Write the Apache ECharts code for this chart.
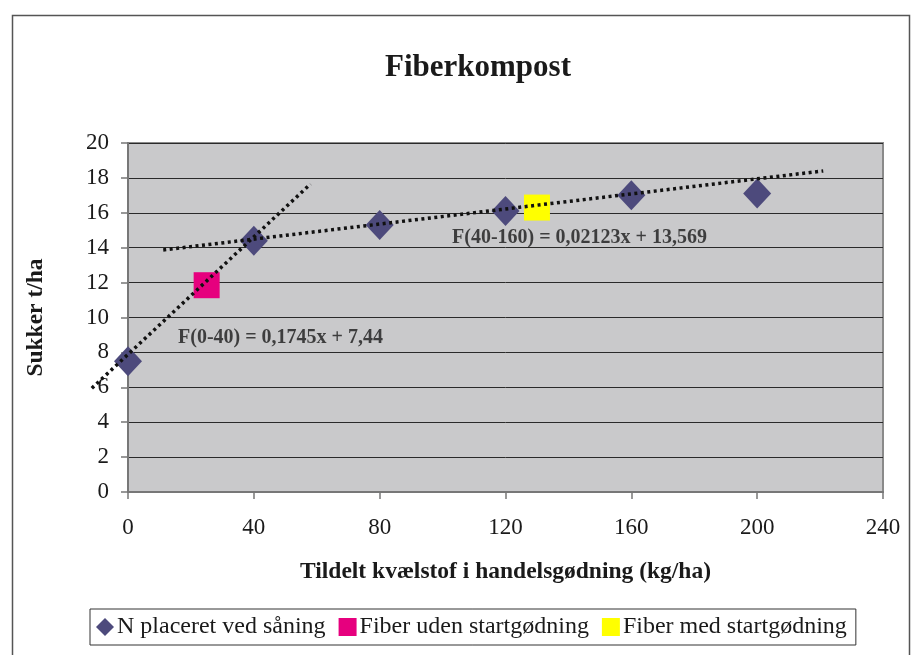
<!DOCTYPE html>
<html><head><meta charset="utf-8">
<script src="https://cdn.jsdelivr.net/npm/echarts@6/dist/echarts.min.js"></script>
<style>html,body{margin:0;padding:0;background:#fff}#c{width:922px;height:655px}</style>
</head><body><div id="c"></div>
<script>
const nPlaced = [[0,7.5],[40,14.4],[80,15.3],[120,16.1],[160,17.0],[200,17.1]];
const fiberUden = [[25,11.85]];
const fiberMed = [[130,16.3]];
const trend1 = [[-11.5,5.95],[58,17.65]];
const trend2 = [[11.2,13.87],[221,18.4]];
const label1 = {pos:[15.9,8.85], text:'F(0-40) = 0,1745x + 7,44'};
const label2 = {pos:[103,14.55], text:'F(40-160) = 0,02123x + 13,569'};
const xTicks = [0,40,80,120,160,200,240];
const yTicks = [0,2,4,6,8,10,12,14,16,18,20];

const F = 'Liberation Serif, Times New Roman, serif';
const chart = echarts.init(document.getElementById('c'));
const dotted = {stroke:'#111',lineWidth:3.5,lineDash:[3,3.5],fill:'none'};
chart.setOption({
  animation:false,
  backgroundColor:'#fff',
  textStyle:{fontFamily:F},
  title:{text:'Fiberkompost',left:473,textAlign:'center',top:47,textStyle:{fontFamily:F,fontSize:31,fontWeight:'bold',color:'#1a1a1a'}},
  grid:{left:128,right:39,top:143,bottom:163,show:true,backgroundColor:'#c9c9cb',borderColor:'#8a8a8a',borderWidth:2},
  legend:{left:90,top:609,orient:'horizontal',itemWidth:18,itemHeight:18,itemGap:13,padding:[6,9,6,6],
    borderColor:'#333',borderWidth:1,textStyle:{fontFamily:F,fontSize:24,color:'#1a1a1a',padding:[0,0,0,-2]},
    data:[{name:'N placeret ved såning',icon:'diamond'},{name:'Fiber uden startgødning',icon:'rect'},{name:'Fiber med startgødning',icon:'rect'}]},
  xAxis:{type:'value',min:0,max:240,interval:40,
    name:'Tildelt kvælstof i handelsgødning (kg/ha)',nameLocation:'middle',nameGap:68,
    nameTextStyle:{fontFamily:F,fontSize:23.5,fontWeight:'bold',color:'#1a1a1a'},
    axisLine:{show:true,lineStyle:{color:'#777',width:2}},
    axisTick:{show:true,length:7,lineStyle:{color:'#777',width:1.5}},
    axisLabel:{fontFamily:F,fontSize:23,color:'#1a1a1a',margin:24,formatter:v=>xTicks.includes(v)?String(v):''},
    splitLine:{show:false}},
  yAxis:{type:'value',min:0,max:20,interval:2,
    name:'Sukker t/ha',nameLocation:'middle',nameGap:80,nameRotate:90,
    nameTextStyle:{fontFamily:F,fontSize:23.5,fontWeight:'bold',color:'#1a1a1a'},
    axisLine:{show:true,lineStyle:{color:'#777',width:2}},
    axisTick:{show:true,length:7,lineStyle:{color:'#777',width:1.5}},
    axisLabel:{fontFamily:F,fontSize:23,color:'#1a1a1a',margin:19,formatter:v=>yTicks.includes(v)?String(v):''},
    splitLine:{show:true,lineStyle:{color:'#2a2a2a',width:1}}},
  series:[
    {name:'N placeret ved såning',type:'scatter',symbol:'diamond',symbolSize:[28,30],itemStyle:{color:'#4d4a7c',opacity:1},data:nPlaced,z:3},
    {name:'Fiber uden startgødning',type:'scatter',symbol:'rect',symbolSize:26,itemStyle:{color:'#e6007e',opacity:1},data:fiberUden,z:3},
    {name:'Fiber med startgødning',type:'scatter',symbol:'rect',symbolSize:26,itemStyle:{color:'#ffff00',opacity:1},data:fiberMed,z:3},
    {type:'scatter',symbolSize:0,silent:true,z:5,data:[label1.pos],
      label:{show:true,position:'right',distance:0,formatter:label1.text,fontFamily:F,fontSize:20,fontWeight:'bold',color:'#1a1a1a'}},
    {type:'scatter',symbolSize:0,silent:true,z:5,data:[label2.pos],
      label:{show:true,position:'right',distance:0,formatter:label2.text,fontFamily:F,fontSize:20,fontWeight:'bold',color:'#1a1a1a'}}
  ]
});
const toPx = p => chart.convertToPixel({xAxisIndex:0,yAxisIndex:0}, p);
chart.setOption({graphic:[
  {type:'rect',shape:{x:12.5,y:15.5,width:897,height:660},style:{fill:'none',stroke:'#555',lineWidth:1.5},z:-1},
  {type:'polyline',shape:{points:trend1.map(toPx)},style:dotted,z:10},
  {type:'polyline',shape:{points:trend2.map(toPx)},style:dotted,z:10}
]});
</script></body></html>
